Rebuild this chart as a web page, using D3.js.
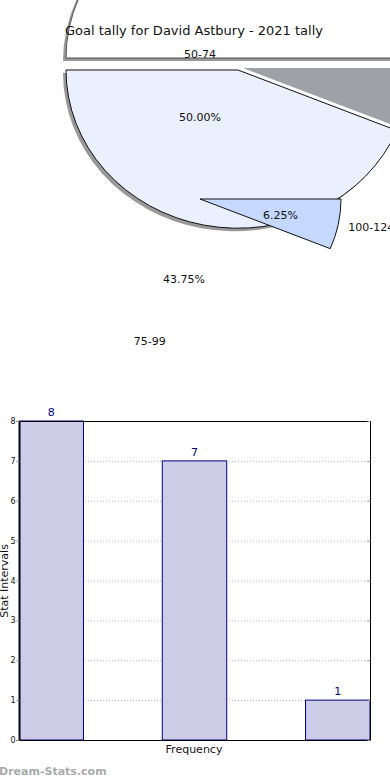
<!DOCTYPE html>
<html>
<head>
<meta charset="utf-8">
<script src="https://cdn.jsdelivr.net/npm/d3@7"></script>
<style>
  body { margin: 0; background: #fff; }
  svg { display: block; font-family: "DejaVu Sans", sans-serif; }
</style>
</head>
<body>
<svg id="chart" width="390" height="780"></svg>
<script>
const title = "Goal tally for David Astbury - 2021 tally";
const categories = ["50-74", "75-99", "100-124"];
const counts = [8, 7, 1];
const yTicks = [0, 1, 2, 3, 4, 5, 6, 7, 8];
const sliceColors = ["#ffffff", "#eaf0fe", "#c5d8fe"];

const svg = d3.select("#chart");
const total = d3.sum(counts);

// ---- pie (slices drawn where the picture has them) ----
const centers = [[238, 58], [238, 70], [200, 199]];
const radii = [172, 172, 141];
const squash = 0.92;

const pie = d3.pie().sort(null)
  .startAngle(Math.PI / 2)
  .endAngle(Math.PI / 2 - 2 * Math.PI);
const arcs = pie(counts);

function slicePath(r) {
  return d3.arc().innerRadius(0).outerRadius(r);
}

const pieG = svg.append("g");

// slice 0 (upper) with shadow
function drawSlice(i, shadow) {
  const [cx, cy] = centers[i];
  const arc = slicePath(radii[i]);
  if (shadow) {
    pieG.append("path")
      .attr("transform", `translate(${cx - 3},${cy + 3}) scale(1,${squash})`)
      .attr("d", arc(arcs[i]))
      .attr("fill", "#999");
  }
  pieG.append("path")
    .attr("transform", `translate(${cx},${cy}) scale(1,${squash})`)
    .attr("d", arc(arcs[i]))
    .attr("fill", sliceColors[i])
    .attr("stroke", i === 0 ? "#555" : "#111")
    .attr("stroke-width", 1)
    .attr("vector-effect", "non-scaling-stroke");
}

drawSlice(0, true);

// grey shadow of the small slice
pieG.append("path")
  .attr("transform", `translate(243,68) scale(1,${squash})`)
  .attr("d", slicePath(172)(arcs[2]))
  .attr("fill", "#9ea1a6");

drawSlice(1, true);
drawSlice(2, false);

// labels
const labelC = [200, 199];
const inArc = d3.arc().innerRadius(82).outerRadius(82);
const outArc = d3.arc().innerRadius(145).outerRadius(145);

const labels = svg.append("g").attr("font-size", 11).attr("fill", "#111");

arcs.forEach((a, i) => {
  const [ix, iy] = inArc.centroid(a);
  labels.append("text")
    .attr("x", labelC[0] + ix)
    .attr("y", labelC[1] + iy)
    .attr("dy", "0.35em")
    .attr("text-anchor", "middle")
    .text((counts[i] / total * 100).toFixed(2) + "%");

  const [ox, oy] = outArc.centroid(a);
  const dir = ox / 145;
  const anchor = dir > 0.1 ? "start" : dir < -0.1 ? "end" : "middle";
  const pad = anchor === "start" ? 6 : anchor === "end" ? -6 : 0;
  labels.append("text")
    .attr("x", labelC[0] + ox + pad)
    .attr("y", labelC[1] + oy)
    .attr("dy", "0.35em")
    .attr("text-anchor", anchor)
    .text(categories[i]);
});

svg.append("text")
  .attr("x", 194)
  .attr("y", 35)
  .attr("text-anchor", "middle")
  .attr("font-size", 13)
  .attr("fill", "#111")
  .text(title);

// ---- bar chart ----
const plot = { left: 19, right: 370, top: 421, bottom: 740 };

const x = d3.scaleBand()
  .domain(categories)
  .range([plot.left, plot.right])
  .paddingInner(0.55)
  .paddingOuter(0);

const y = d3.scaleLinear()
  .domain([0, 8])
  .range([plot.bottom, plot.top]);

svg.append("g")
  .selectAll("line")
  .data(yTicks)
  .join("line")
  .attr("x1", plot.left)
  .attr("x2", plot.right)
  .attr("y1", d => y(d) + 0.5)
  .attr("y2", d => y(d) + 0.5)
  .attr("stroke", "#bbb")
  .attr("stroke-dasharray", "1,2");

svg.append("g")
  .selectAll("rect")
  .data(counts)
  .join("rect")
  .attr("x", (d, i) => x(categories[i]))
  .attr("y", d => y(d))
  .attr("width", x.bandwidth())
  .attr("height", d => y(0) - y(d))
  .attr("fill", "#cccce6")
  .attr("stroke", "#000080");

svg.append("g")
  .selectAll("text")
  .data(counts)
  .join("text")
  .attr("x", (d, i) => x(categories[i]) + x.bandwidth() / 2)
  .attr("y", d => y(d) - 5)
  .attr("text-anchor", "middle")
  .attr("font-size", 11)
  .attr("fill", "#000080")
  .text(d => d);

svg.append("rect")
  .attr("x", plot.left + 0.5)
  .attr("y", plot.top + 0.5)
  .attr("width", plot.right - plot.left)
  .attr("height", plot.bottom - plot.top)
  .attr("fill", "none")
  .attr("stroke", "#000");

const yAxis = svg.append("g")
  .attr("transform", `translate(${plot.left + 0.5},0)`)
  .call(d3.axisLeft(y).tickValues(yTicks).tickSize(3).tickPadding(1));
yAxis.select(".domain").attr("stroke", "#000");
yAxis.selectAll(".tick line").attr("stroke", "#888");
yAxis.selectAll(".tick text")
  .attr("font-size", 8)
  .attr("font-family", "DejaVu Sans, sans-serif")
  .attr("fill", "#111");

const rAxis = svg.append("g")
  .attr("transform", `translate(${plot.right + 0.5},0)`)
  .call(d3.axisLeft(y).tickValues(yTicks).tickSize(3).tickFormat(""));
rAxis.select(".domain").remove();
rAxis.selectAll(".tick line").attr("stroke", "#999");

svg.append("text")
  .attr("x", 194)
  .attr("y", 753)
  .attr("text-anchor", "middle")
  .attr("font-size", 11)
  .attr("fill", "#111")
  .text("Frequency");

svg.append("text")
  .attr("transform", `translate(8,581) rotate(-90)`)
  .attr("text-anchor", "middle")
  .attr("font-size", 11)
  .attr("fill", "#111")
  .text("Stat Intervals");

svg.append("text")
  .attr("x", -1)
  .attr("y", 775)
  .attr("font-size", 11)
  .attr("font-weight", "bold")
  .attr("fill", "#aaa")
  .text("Dream-Stats.com");
</script>
</body>
</html>
